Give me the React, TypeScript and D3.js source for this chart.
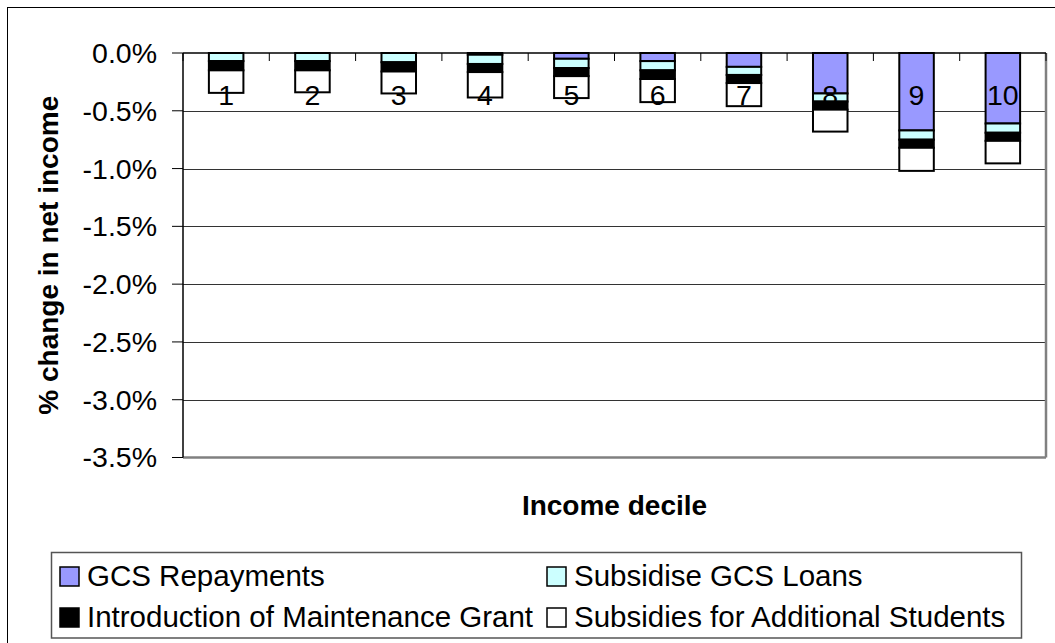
import React from "react";
import * as d3 from "d3";

const deciles = ["1", "2", "3", "4", "5", "6", "7", "8", "9", "10"];
const gcsRepayments = [0, 0, 0, -0.015, -0.05, -0.07, -0.12, -0.35, -0.67, -0.61];
const subsidiseLoans = [-0.07, -0.07, -0.08, -0.08, -0.08, -0.08, -0.07, -0.07, -0.08, -0.08];
const maintenanceGrant = [-0.08, -0.08, -0.08, -0.07, -0.07, -0.075, -0.07, -0.07, -0.07, -0.07];
const additionalStudents = [-0.195, -0.19, -0.19, -0.22, -0.19, -0.2, -0.2, -0.19, -0.2, -0.195];
const yTicks = [0, -0.5, -1.0, -1.5, -2.0, -2.5, -3.0, -3.5];

const seriesNames = [
  "GCS Repayments",
  "Subsidise GCS Loans",
  "Introduction of Maintenance Grant",
  "Subsidies for Additional Students",
];
const seriesColors = ["#9999FF", "#CCFFFF", "#000000", "#FFFFFF"];

const FONT = "'Liberation Sans', Arial, sans-serif";

const fmt = (t: number) => (t < 0 ? "-" : "") + Math.abs(t).toFixed(1) + "%";

export default function App() {
  const W = 1055;
  const H = 643;
  const left = 183;
  const right = 1046;
  const top = 53;
  const bottom = 457.5;

  const x = d3
    .scaleBand<string>()
    .domain(deciles)
    .range([left, right])
    .paddingInner(0.6)
    .paddingOuter(0.3);
  const y = d3.scaleLinear().domain([0, -3.5]).range([top, bottom]);

  const rows = deciles.map((d, i) => ({
    decile: d,
    s0: gcsRepayments[i],
    s1: subsidiseLoans[i],
    s2: maintenanceGrant[i],
    s3: additionalStudents[i],
  }));
  const keys = ["s0", "s1", "s2", "s3"];
  const stacked = d3
    .stack<any>()
    .keys(keys)
    .offset(d3.stackOffsetDiverging)(rows);

  const step = x.step();
  const boundaries = d3.range(deciles.length + 1).map((i) => left + i * step);

  const legendRows = [
    [0, 1],
    [2, 3],
  ];

  return (
    <svg
      width={W}
      height={H}
      style={{ position: "fixed", left: 0, top: 0, background: "#fff" }}
      fontFamily={FONT}
    >
      {/* outer chart frame */}
      <rect x={7.5} y={7.5} width={1200} height={800} fill="#fff" stroke="#000" strokeWidth={1} />

      {/* gridlines */}
      {yTicks.slice(1, -1).map((t) => (
        <line
          key={"g" + t}
          x1={left}
          x2={right}
          y1={Math.round(y(t)) + 0.5}
          y2={Math.round(y(t)) + 0.5}
          stroke="#333"
          strokeWidth={1}
        />
      ))}

      {/* plot area border bottom & right */}
      <line x1={left} x2={right} y1={bottom} y2={bottom} stroke="#808080" strokeWidth={2.5} />
      <line x1={right} x2={right} y1={top} y2={bottom} stroke="#808080" strokeWidth={2.5} />

      {/* category axis line at 0 */}
      <line x1={left} x2={right} y1={y(0)} y2={y(0)} stroke="#000" strokeWidth={1.5} />
      {boundaries.map((b, i) => (
        <line key={"ct" + i} x1={b} x2={b} y1={y(0)} y2={y(0) + 8} stroke="#000" strokeWidth={1} />
      ))}

      {/* value axis */}
      <line x1={left} x2={left} y1={top} y2={bottom} stroke="#000" strokeWidth={1.5} />
      {yTicks.map((t) => (
        <g key={"yt" + t}>
          <line x1={left - 11} x2={left} y1={y(t)} y2={y(t)} stroke="#000" strokeWidth={1} />
          <text
            x={157}
            y={y(t)}
            dy="0.35em"
            textAnchor="end"
            fontSize={28.5}
            fill="#000"
          >
            {fmt(t)}
          </text>
        </g>
      ))}

      {/* bars */}
      {stacked.map((layer, si) => (
        <g key={"s" + si}>
          {layer.map((seg, i) => {
            const y0 = y(seg[1]);
            const y1 = y(seg[0]);
            const yTop = Math.min(y0, y1);
            const h = Math.abs(y1 - y0);
            return (
              <rect
                key={i}
                x={x(deciles[i])}
                y={yTop}
                width={x.bandwidth()}
                height={h}
                fill={seriesColors[si]}
                stroke="#000"
                strokeWidth={2}
              />
            );
          })}
        </g>
      ))}

      {/* category labels */}
      {deciles.map((d) => (
        <text
          key={"cl" + d}
          x={(x(d) as number) + x.bandwidth() / 2}
          y={105}
          textAnchor="middle"
          fontSize={28.5}
          fill="#000"
        >
          {d}
        </text>
      ))}

      {/* axis titles */}
      <text
        x={(left + right) / 2}
        y={515}
        textAnchor="middle"
        fontSize={28}
        fontWeight="bold"
        fill="#000"
      >
        Income decile
      </text>
      <text
        transform={`translate(58, ${(top + bottom) / 2}) rotate(-90)`}
        textAnchor="middle"
        fontSize={28}
        fontWeight="bold"
        fill="#000"
      >
        % change in net income
      </text>

      {/* legend */}
      <rect x={51.5} y={552.5} width={970} height={85.5} fill="#fff" stroke="#555" strokeWidth={1.5} />
      {legendRows.map((row, ri) =>
        row.map((si, ci) => {
          const sx = ci === 0 ? 60 : 547;
          const baseY = 586 + ri * 41;
          return (
            <g key={"lg" + si}>
              <rect
                x={sx}
                y={baseY - 19}
                width={19}
                height={19}
                fill={seriesColors[si]}
                stroke="#000"
                strokeWidth={1.5}
              />
              <text x={sx + 27} y={baseY} fontSize={29.5} fill="#000">
                {seriesNames[si]}
              </text>
            </g>
          );
        })
      )}
    </svg>
  );
}
